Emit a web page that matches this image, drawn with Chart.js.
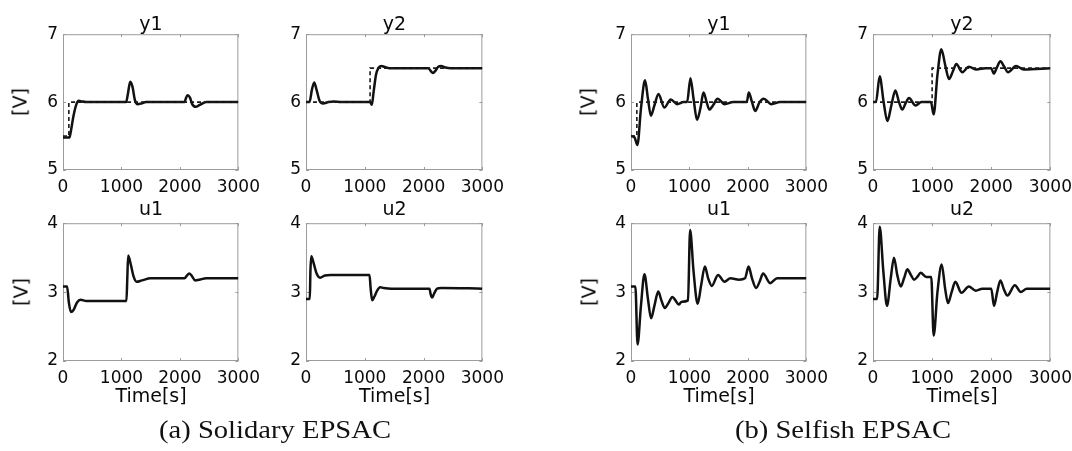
<!DOCTYPE html>
<html lang="en">
<head>
  <meta charset="UTF-8" />
  <title>EPSAC responses</title>
  <script src="https://cdn.jsdelivr.net/npm/chart.js@4.4.0/dist/chart.umd.min.js"></script>
  <style>
    body { margin: 0; background: #fff; }
    #fig { position: relative; width: 1072px; height: 451px; overflow: hidden; }
    #fig canvas { position: absolute; }
    .lbl { position: absolute; white-space: nowrap; color: #0a0a0a; font-family: "DejaVu Sans", sans-serif;
           transform: translate(-50%, -50%); line-height: 1; }
    .ttl { font-size: 19px; }
    .xl { font-size: 19px; }
    .yl { font-size: 19px; transform: translate(-50%, -50%) rotate(-90deg); }
    .cap { font-family: "Liberation Serif", "Times New Roman", serif; font-size: 26px; color: #111;
           transform: translate(-50%, -50%) scaleX(1.1); }
  </style>
</head>
<body>
  <div id="fig"></div>

<script>
  // ticks
  const xTicks = [0, 1000, 2000, 3000];
  const yTicksOut = [5, 6, 7];
  const yTicksIn = [2, 3, 4];

  // (a) Solidary EPSAC
  const a_y1_t = [0, 110, 130, 180, 230, 270, 320, 400, 1080, 1110, 1150, 1190, 1230, 1280, 1340, 1420, 1500, 2080, 2100, 2130, 2170, 2210, 2270, 2340, 2450, 3000];
  const a_y1_v = [5.48, 5.48, 5.55, 5.8, 5.97, 6.02, 6.01, 6.0, 6.0, 6.12, 6.3, 6.22, 6.03, 5.97, 5.98, 6.0, 6.0, 6.0, 6.05, 6.1, 6.07, 5.97, 5.93, 5.96, 6.0, 6.0];
  const a_y1_ref_t = [0, 100, 100, 3000];
  const a_y1_ref_v = [5.5, 5.5, 6.0, 6.0];

  const a_y2_t = [0, 60, 100, 140, 180, 230, 290, 380, 470, 600, 1090, 1120, 1150, 1190, 1230, 1280, 1330, 1420, 2080, 2120, 2160, 2200, 2250, 2300, 2370, 2460, 3000];
  const a_y2_v = [6.0, 6.0, 6.18, 6.29, 6.18, 6.02, 5.98, 6.0, 6.01, 6.0, 6.0, 5.96, 6.15, 6.4, 6.5, 6.53, 6.52, 6.5, 6.5, 6.46, 6.43, 6.46, 6.52, 6.53, 6.51, 6.5, 6.5];
  const a_y2_ref_t = [0, 1090, 1090, 3000];
  const a_y2_ref_v = [6.0, 6.0, 6.5, 6.5];

  const a_u1_t = [0, 70, 100, 135, 180, 240, 300, 400, 1085, 1100, 1115, 1160, 1210, 1260, 1350, 1500, 2080, 2120, 2160, 2200, 2260, 2330, 2450, 3000];
  const a_u1_v = [3.08, 3.08, 2.85, 2.71, 2.74, 2.85, 2.89, 2.87, 2.87, 3.2, 3.53, 3.4, 3.22, 3.15, 3.17, 3.2, 3.2, 3.24, 3.27, 3.24, 3.17, 3.18, 3.2, 3.2];

  const a_u2_t = [0, 65, 75, 90, 130, 180, 240, 320, 420, 1080, 1100, 1125, 1160, 1210, 1260, 1320, 1450, 2100, 2120, 2145, 2180, 2230, 2300, 3000];
  const a_u2_v = [2.9, 2.9, 3.3, 3.52, 3.42, 3.27, 3.21, 3.24, 3.25, 3.25, 3.05, 2.88, 2.93, 3.02, 3.07, 3.06, 3.05, 3.05, 2.97, 2.92, 2.98, 3.05, 3.06, 3.05];

  // (b) Selfish EPSAC
  const b_y1_t = [0, 60, 110, 170, 240, 290, 340, 400, 470, 570, 680, 790, 900, 960, 1017, 1070, 1129, 1190, 1240, 1300, 1340, 1410, 1480, 1600, 1750, 1980, 2015, 2070, 2125, 2200, 2270, 2400, 2550, 3000];
  const b_y1_v = [5.5, 5.48, 5.37, 5.9, 6.32, 6.05, 5.8, 5.95, 6.12, 5.92, 6.04, 5.97, 6.0, 6.0, 6.35, 6.05, 5.74, 5.92, 6.14, 5.98, 5.89, 5.96, 6.05, 5.97, 6.0, 6.0, 6.14, 6.0, 5.87, 6.0, 6.05, 5.97, 6.0, 6.0];
  const b_y1_ref_t = [0, 100, 100, 3000];
  const b_y1_ref_v = [5.5, 5.5, 6.0, 6.0];

  const b_y2_t = [0, 50, 113, 180, 243, 310, 378, 440, 496, 550, 609, 720, 820, 980, 1026, 1090, 1156, 1220, 1286, 1350, 1410, 1510, 1620, 1750, 1900, 2000, 2042, 2100, 2155, 2220, 2284, 2420, 2550, 3000];
  const b_y2_v = [6.0, 6.0, 6.38, 6.0, 5.72, 5.95, 6.17, 6.0, 5.89, 5.98, 6.06, 5.95, 6.0, 6.0, 5.82, 6.4, 6.78, 6.55, 6.34, 6.45, 6.56, 6.44, 6.52, 6.48, 6.5, 6.5, 6.42, 6.52, 6.6, 6.52, 6.44, 6.53, 6.48, 6.5];
  const b_y2_ref_t = [0, 1000, 1000, 3000];
  const b_y2_ref_v = [6.0, 6.0, 6.5, 6.5];

  const b_u1_t = [0, 75, 112, 170, 230, 290, 343, 400, 466, 520, 579, 640, 708, 760, 815, 870, 975, 1011, 1070, 1140, 1200, 1264, 1320, 1382, 1489, 1600, 1700, 1850, 1950, 2011, 2070, 2140, 2200, 2260, 2380, 2500, 3000];
  const b_u1_v = [3.08, 3.08, 2.24, 2.8, 3.26, 2.9, 2.62, 2.8, 3.01, 2.88, 2.77, 2.84, 2.93, 2.88, 2.82, 2.86, 2.88, 3.9, 3.3, 2.83, 3.1, 3.37, 3.2, 3.09, 3.25, 3.15, 3.2, 3.18, 3.2, 3.37, 3.2, 3.06, 3.15, 3.27, 3.13, 3.2, 3.2];

  const b_u2_t = [0, 70, 113, 175, 237, 300, 355, 410, 468, 525, 581, 640, 694, 750, 806, 900, 985, 1026, 1090, 1162, 1220, 1269, 1330, 1393, 1495, 1620, 1740, 1850, 2000, 2047, 2100, 2155, 2210, 2273, 2400, 2500, 2600, 3000];
  const b_u2_v = [2.9, 2.9, 3.95, 3.3, 2.8, 3.2, 3.5, 3.25, 3.08, 3.2, 3.33, 3.25, 3.18, 3.22, 3.28, 3.22, 3.22, 2.37, 3.0, 3.4, 3.05, 2.84, 3.0, 3.15, 2.99, 3.08, 3.02, 3.05, 3.05, 2.8, 3.0, 3.17, 3.05, 2.95, 3.1, 3.0, 3.05, 3.05];

  // plot boxes on the page: left, top, right, bottom of the axes frame
  const panels = [
    { title: 'y1', box: [63, 33, 239, 170], yr: [5, 7], yt: yTicksOut, t: a_y1_t, v: a_y1_v, rt: a_y1_ref_t, rv: a_y1_ref_v, ylab: 20 },
    { title: 'y2', box: [306, 33, 483, 170], yr: [5, 7], yt: yTicksOut, t: a_y2_t, v: a_y2_v, rt: a_y2_ref_t, rv: a_y2_ref_v },
    { title: 'u1', box: [63, 222, 239, 361], yr: [2, 4], yt: yTicksIn, t: a_u1_t, v: a_u1_v, ylab: 21, xlab: true },
    { title: 'u2', box: [306, 222, 483, 361], yr: [2, 4], yt: yTicksIn, t: a_u2_t, v: a_u2_v, xlab: true },
    { title: 'y1', box: [631, 33, 807, 170], yr: [5, 7], yt: yTicksOut, t: b_y1_t, v: b_y1_v, rt: b_y1_ref_t, rv: b_y1_ref_v, ylab: 588 },
    { title: 'y2', box: [873, 33, 1051, 170], yr: [5, 7], yt: yTicksOut, t: b_y2_t, v: b_y2_v, rt: b_y2_ref_t, rv: b_y2_ref_v },
    { title: 'u1', box: [631, 222, 807, 361], yr: [2, 4], yt: yTicksIn, t: b_u1_t, v: b_u1_v, ylab: 589, xlab: true },
    { title: 'u2', box: [873, 222, 1051, 361], yr: [2, 4], yt: yTicksIn, t: b_u2_t, v: b_u2_v, xlab: true }
  ];

  const PAD_T = 14, PAD_R = 28, AX_W = 45, AX_H = 30;
  const tickFont = { family: 'DejaVu Sans', size: 17 };

  // matlab style box with small inward ticks
  const frame = {
    id: 'frame',
    beforeDatasetsDraw(chart) {
      const a = chart.chartArea, ctx = chart.ctx;
      const sx = chart.scales.x, sy = chart.scales.y;
      ctx.save();
      ctx.strokeStyle = '#9c9c9c';
      ctx.lineWidth = 1;
      ctx.strokeRect(a.left + 0.5, a.top + 0.5, a.width - 1, a.height - 1);
      ctx.beginPath();
      sx.ticks.forEach(function (tk) {
        const px = Math.round(sx.getPixelForValue(tk.value)) + 0.5;
        ctx.moveTo(px, a.top); ctx.lineTo(px, a.top + 3);
        ctx.moveTo(px, a.bottom); ctx.lineTo(px, a.bottom - 3);
      });
      sy.ticks.forEach(function (tk) {
        const py = Math.round(sy.getPixelForValue(tk.value)) + 0.5;
        ctx.moveTo(a.left, py); ctx.lineTo(a.left + 3, py);
        ctx.moveTo(a.right, py); ctx.lineTo(a.right - 3, py);
      });
      ctx.stroke();
      ctx.restore();
    }
  };

  function pts(t, v) {
    return t.map(function (x, i) { return { x: x, y: v[i] }; });
  }

  const fig = document.getElementById('fig');

  function addText(cls, text, x, y) {
    const d = document.createElement('div');
    d.className = 'lbl ' + cls;
    d.textContent = text;
    d.style.left = x + 'px';
    d.style.top = y + 'px';
    fig.appendChild(d);
  }

  panels.forEach(function (p) {
    const [l, t, r, b] = p.box;
    const cv = document.createElement('canvas');
    cv.width = (r - l) + AX_W + PAD_R;
    cv.height = (b - t) + PAD_T + AX_H;
    cv.style.left = (l - AX_W) + 'px';
    cv.style.top = (t - PAD_T) + 'px';
    fig.appendChild(cv);

    const datasets = [];
    if (p.rt) {
      datasets.push({
        data: pts(p.rt, p.rv), borderColor: '#1a1a1a', borderWidth: 1.6,
        borderDash: [4, 3], pointRadius: 0, tension: 0
      });
    }
    datasets.push({
      data: pts(p.t, p.v), borderColor: '#111', borderWidth: 2.5,
      pointRadius: 0, cubicInterpolationMode: 'monotone'
    });

    new Chart(cv, {
      type: 'line',
      data: { datasets: datasets },
      options: {
        responsive: false,
        animation: false,
        events: [],
        layout: { padding: { top: PAD_T, right: PAD_R, left: 0, bottom: 0 } },
        plugins: { legend: { display: false }, tooltip: { enabled: false } },
        scales: {
          x: {
            type: 'linear', min: 0, max: 3000,
            afterBuildTicks: function (s) { s.ticks = xTicks.map(function (v) { return { value: v }; }); },
            afterFit: function (s) { s.height = AX_H; },
            grid: { display: false, drawTicks: false }, border: { display: false },
            ticks: { font: tickFont, color: '#0a0a0a', padding: 7, maxRotation: 0, autoSkip: false,
                     callback: function (v) { return String(v); } }
          },
          y: {
            type: 'linear', min: p.yr[0], max: p.yr[1],
            afterBuildTicks: function (s) { s.ticks = p.yt.map(function (v) { return { value: v }; }); },
            afterFit: function (s) { s.width = AX_W; },
            grid: { display: false, drawTicks: false }, border: { display: false },
            ticks: { font: tickFont, color: '#0a0a0a', padding: 5,
                     callback: function (v) { return String(v); } }
          }
        }
      },
      plugins: [frame]
    });

    const cx = (l + r) / 2;
    addText('ttl', p.title, cx, t < 100 ? 23 : 208);
    if (p.ylab) addText('yl', '[V]', p.ylab, (t + b) / 2);
    if (p.xlab) addText('xl', 'Time[s]', cx, 395);
  });

  addText('cap', '(a) Solidary EPSAC', 275, 430);
  addText('cap', '(b) Selfish EPSAC', 843, 430);
</script>
</body>
</html>
